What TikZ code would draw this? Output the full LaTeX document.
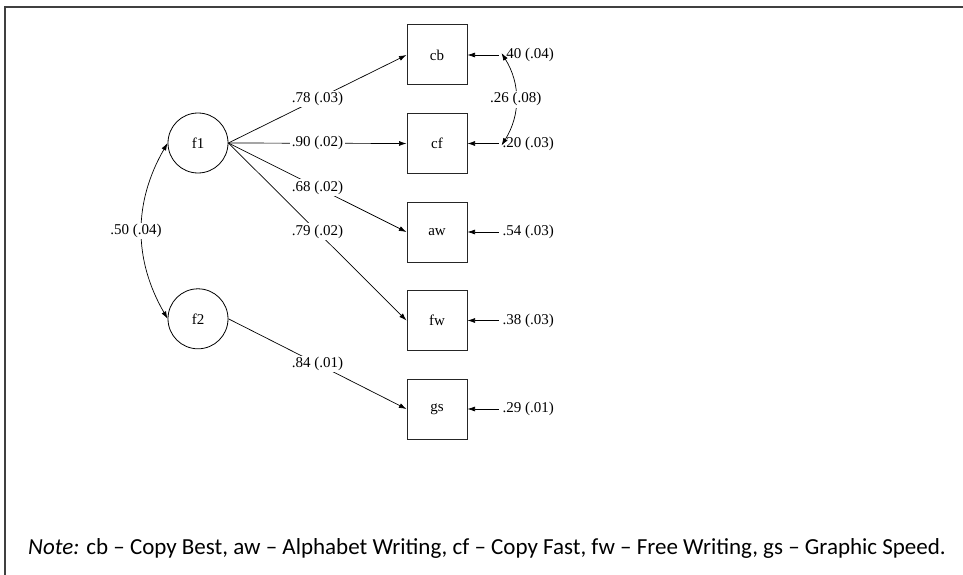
\documentclass[tikz,border=0pt]{standalone}
\usepackage{fontspec}
\setmainfont{Liberation Serif}
\newfontfamily\notefont{Carlito}
\usetikzlibrary{arrows.meta,positioning}

\begin{document}
\begin{tikzpicture}[x=1pt, y=1pt, font=\fontsize{15}{18}\selectfont, node distance=27.5pt and 31pt,
  latent/.style={draw=black, circle, minimum size=60pt, inner sep=0pt, line width=0.8pt},
  obs/.style={draw=black!85, minimum width=60pt, minimum height=60pt, inner sep=0pt, line width=1pt},
  err/.style={inner sep=4pt},
  path/.style={-{Latex[length=7.5pt,width=5pt]}, draw=black, line width=0.7pt},
  cov/.style={{Latex[length=7.5pt,width=5pt]}-{Latex[length=7.5pt,width=5pt]}, draw=black, line width=0.7pt},
  coef/.style={fill=white, inner sep=1.5pt}]
  \useasboundingbox (0,0) rectangle (963,-575);
  \draw[line width=1.6pt, black!75] (5,-575) |- (963,-7);
  % factors
  \node[latent] (f1) at (198,-143) {f1};
  \node[latent, below=115pt of f1] (f2) {f2};
  % indicators
  \node[obs] (cb) at (437,-55) {cb};
  \node[obs, below=of cb] (cf) {cf};
  \node[obs, below=of cf] (aw) {aw};
  \node[obs, below=of aw] (fw) {fw};
  \node[obs, below=of fw] (gs) {gs};
  % residuals
  \node[err, right=of cb] (ecb) {.40 (.04)};
  \node[err, right=of cf] (ecf) {.20 (.03)};
  \node[err, right=of aw] (eaw) {.54 (.03)};
  \node[err, right=of fw] (efw) {.38 (.03)};
  \node[err, right=of gs] (egs) {.29 (.01)};
  \foreach \e/\v in {ecb/cb, ecf/cf, eaw/aw, efw/fw, egs/gs}
    \draw[path] (\e.west) -- (\v.east);
  % loadings
  \draw[path] (f1.east) -- node[coef]{.78 (.03)} (cb.west);
  \draw[path] (f1.east) -- node[coef]{.90 (.02)} (cf.west);
  \draw[path] (f1.east) -- node[coef]{.68 (.02)} (aw.west);
  \draw[path] (f1.east) -- node[coef]{.79 (.02)} (fw.west);
  \draw[path] (f2.east) -- node[coef]{.84 (.01)} (gs.west);
  % covariances
  \draw[cov] (f1.west) to[bend right=30] node[coef, xshift=-6pt]{.50 (.04)} (f2.west);
  \draw[cov] ([xshift=3pt,yshift=2pt]ecb.west) to[bend left=32] node[coef]{.26 (.08)} ([xshift=3pt,yshift=-2pt]ecf.west);
  \node[anchor=west, inner sep=0pt, font=\notefont\fontsize{23}{27}\selectfont] (note) at (28,-548)
    {\textit{Note:} cb – Copy Best, aw – Alphabet Writing, cf – Copy Fast, fw – Free Writing, gs – Graphic Speed.};
\end{tikzpicture}
\end{document}
